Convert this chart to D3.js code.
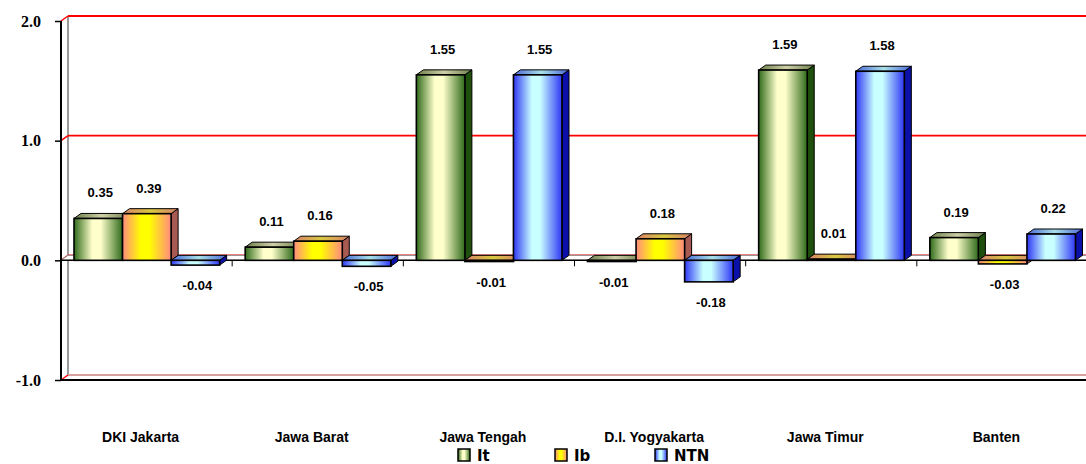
<!DOCTYPE html>
<html>
<head>
<meta charset="utf-8">
<script src="https://cdn.jsdelivr.net/npm/d3@7"></script>
<style>
  html, body { margin: 0; padding: 0; background: #fff; }
  svg { display: block; }
</style>
</head>
<body>
<div id="chart"></div>
<script>
var categories = ["DKI Jakarta", "Jawa Barat", "Jawa Tengah", "D.I. Yogyakarta", "Jawa Timur", "Banten"];
var seriesNames = ["It", "Ib", "NTN"];
var itValues = [0.35, 0.11, 1.55, -0.01, 1.59, 0.19];
var ibValues = [0.39, 0.16, -0.01, 0.18, 0.01, -0.03];
var ntnValues = [-0.04, -0.05, 1.55, -0.18, 1.58, 0.22];
var yTicks = [-1.0, 0.0, 1.0, 2.0];

var width = 1086, height = 464;
var depthX = 7, depthY = 5;

var palette = {
  It:  { edge: "#2f6a1a", mid: "#ffffcc", side: "#1f4f0c", top0: "#6d7f4a", top1: "#cfcfa8" },
  Ib:  { edge: "#ff8a80", mid: "#ffff00", side: "#a85a52", top0: "#d8806a", top1: "#d8c840" },
  NTN: { edge: "#2e36f5", mid: "#c8ffff", side: "#0a10a8", top0: "#4a68d8", top1: "#a8e0e8" }
};

// plain hyphen minus like the original labels
function fmt(p) {
  var f = d3.format("." + p + "f");
  return function (v) { return f(v).replace("\u2212", "-"); };
}

var svg = d3.select("#chart").append("svg")
  .attr("width", width)
  .attr("height", height);

var defs = svg.append("defs");
seriesNames.forEach(function (s) {
  var p = palette[s];
  var g = defs.append("linearGradient").attr("id", "front-" + s)
    .attr("x1", "0").attr("x2", "1").attr("y1", "0").attr("y2", "0");
  g.append("stop").attr("offset", "0%").attr("stop-color", p.edge);
  g.append("stop").attr("offset", "38%").attr("stop-color", p.mid);
  g.append("stop").attr("offset", "55%").attr("stop-color", p.mid);
  g.append("stop").attr("offset", "100%").attr("stop-color", p.edge);
  var t = defs.append("linearGradient").attr("id", "top-" + s)
    .attr("x1", "0").attr("x2", "1").attr("y1", "0").attr("y2", "0");
  t.append("stop").attr("offset", "0%").attr("stop-color", p.top0);
  t.append("stop").attr("offset", "50%").attr("stop-color", p.top1);
  t.append("stop").attr("offset", "100%").attr("stop-color", p.top0);
});

var x0 = d3.scaleBand().domain(categories).range([61, 1088]);
var x1 = d3.scaleBand().domain(seriesNames).range([13, x0.bandwidth() - 12.5]);
var y = d3.scaleLinear().domain([-1, 2]).range([380, 21]);

var left = x0.range()[0], right = x0.range()[1];

// back wall + side wall lines
svg.append("line")
  .attr("x1", left + depthX).attr("x2", left + depthX)
  .attr("y1", y(2) - depthY).attr("y2", y(-1) - depthY)
  .attr("stroke", "#9a9a9a").attr("stroke-width", 2);
svg.append("line")
  .attr("x1", left + depthX).attr("x2", right + depthX)
  .attr("y1", y(-1) - depthY).attr("y2", y(-1) - depthY)
  .attr("stroke", "#9a9a9a").attr("stroke-width", 2);

// red gridlines
yTicks.forEach(function (v) {
  var col = (v === -1) ? "#d9a0a0" : "#ff0000";
  svg.append("line")
    .attr("x1", left + depthX).attr("x2", right + depthX)
    .attr("y1", y(v) - depthY).attr("y2", y(v) - depthY)
    .attr("stroke", col).attr("stroke-width", 1.8);
  svg.append("line")
    .attr("x1", left).attr("x2", left + depthX)
    .attr("y1", y(v)).attr("y2", y(v) - depthY)
    .attr("stroke", "#ff0000").attr("stroke-width", 1.5);
});

// zero floor plane
var y0 = y(0);
svg.append("path")
  .attr("d", "M" + left + "," + y0 + "L" + right + "," + y0 + "L" + (right + depthX) + "," + (y0 - depthY) +
    "L" + (left + depthX) + "," + (y0 - depthY) + "Z")
  .attr("fill", "#fff").attr("stroke", "#8a8a8a").attr("stroke-width", 1);
svg.append("line")
  .attr("x1", left).attr("x2", right).attr("y1", y0).attr("y2", y0)
  .attr("stroke", "#000").attr("stroke-width", 1.5);

// category ticks under zero line
x0.domain().forEach(function (c, i) {
  if (i === 0) return;
  svg.append("line")
    .attr("x1", x0(c)).attr("x2", x0(c))
    .attr("y1", y0).attr("y2", y0 + 6)
    .attr("stroke", "#000").attr("stroke-width", 1);
});

// left axis and bottom frame
svg.append("line")
  .attr("x1", left).attr("x2", left).attr("y1", y(2)).attr("y2", y(-1))
  .attr("stroke", "#000").attr("stroke-width", 2);
svg.append("line")
  .attr("x1", left).attr("x2", right).attr("y1", y(-1)).attr("y2", y(-1))
  .attr("stroke", "#000").attr("stroke-width", 2);

var yAxis = svg.append("g")
  .attr("transform", "translate(" + left + ",0)")
  .call(d3.axisLeft(y).tickValues(yTicks).tickSize(6).tickPadding(14).tickFormat(fmt(1)));
yAxis.select(".domain").remove();
yAxis.selectAll(".tick line").attr("stroke", "#000").attr("stroke-width", 1.5);
yAxis.selectAll(".tick text")
  .attr("fill", "#000")
  .style("font-family", "'Liberation Serif', 'Times New Roman', serif")
  .style("font-weight", "bold")
  .style("font-size", "16px");

// bars
var rows = categories.map(function (c, i) {
  return { cat: c, vals: [
    { key: "It", v: itValues[i] },
    { key: "Ib", v: ibValues[i] },
    { key: "NTN", v: ntnValues[i] }
  ] };
});

var valFmt = fmt(2);
var groups = svg.selectAll(".grp").data(rows).enter().append("g")
  .attr("class", "grp")
  .attr("transform", function (d) { return "translate(" + x0(d.cat) + ",0)"; });

groups.each(function (row) {
  var g = d3.select(this);
  row.vals.forEach(function (d) {
    var bx = x1(d.key), bw = x1.bandwidth();
    var yt = y(Math.max(0, d.v)), yb = y(Math.min(0, d.v));
    var h = Math.max(yb - yt, 1);
    var bar = g.append("g");
    // side face
    bar.append("path")
      .attr("d", "M" + (bx + bw) + "," + yt + "L" + (bx + bw + depthX) + "," + (yt - depthY) +
        "L" + (bx + bw + depthX) + "," + (yt + h - depthY) + "L" + (bx + bw) + "," + (yt + h) + "Z")
      .attr("fill", palette[d.key].side).attr("stroke", "#000").attr("stroke-width", 1);
    // top face
    bar.append("path")
      .attr("d", "M" + bx + "," + yt + "L" + (bx + depthX) + "," + (yt - depthY) +
        "L" + (bx + bw + depthX) + "," + (yt - depthY) + "L" + (bx + bw) + "," + yt + "Z")
      .attr("fill", "url(#top-" + d.key + ")").attr("stroke", "#000").attr("stroke-width", 1);
    // front face
    bar.append("rect")
      .attr("x", bx).attr("y", yt).attr("width", bw).attr("height", h)
      .attr("fill", "url(#front-" + d.key + ")").attr("stroke", "#000").attr("stroke-width", 1.6);
    // value label
    bar.append("text")
      .attr("x", bx + bw / 2 + 2)
      .attr("y", d.v >= 0 ? yt - 21 : yb + 25)
      .attr("text-anchor", "middle")
      .style("font-family", "'Liberation Sans', Arial, sans-serif")
      .style("font-weight", "bold")
      .style("font-size", "13px")
      .attr("fill", "#000")
      .text(valFmt(d.v));
  });
});

// category labels
svg.selectAll(".cat").data(categories).enter().append("text")
  .attr("class", "cat")
  .attr("x", function (d) { return x0(d) + x0.bandwidth() / 2 - 6; })
  .attr("y", 442)
  .attr("text-anchor", "middle")
  .style("font-family", "'Liberation Sans', Arial, sans-serif")
  .style("font-weight", "bold")
  .style("font-size", "14px")
  .text(function (d) { return d; });

// legend
var legendX = [458, 555, 655];
var legend = svg.selectAll(".leg").data(seriesNames).enter().append("g")
  .attr("class", "leg")
  .attr("transform", function (d, i) { return "translate(" + legendX[i] + ",449)"; });
legend.append("rect")
  .attr("width", 12).attr("height", 12)
  .attr("fill", function (d) { return "url(#front-" + d + ")"; })
  .attr("stroke", "#000").attr("stroke-width", 1.5);
legend.append("text")
  .attr("x", 19).attr("y", 12)
  .style("font-family", "'DejaVu Sans', Verdana, sans-serif")
  .style("font-weight", "bold")
  .style("font-size", "15px")
  .text(function (d) { return d; });
</script>
</body>
</html>
